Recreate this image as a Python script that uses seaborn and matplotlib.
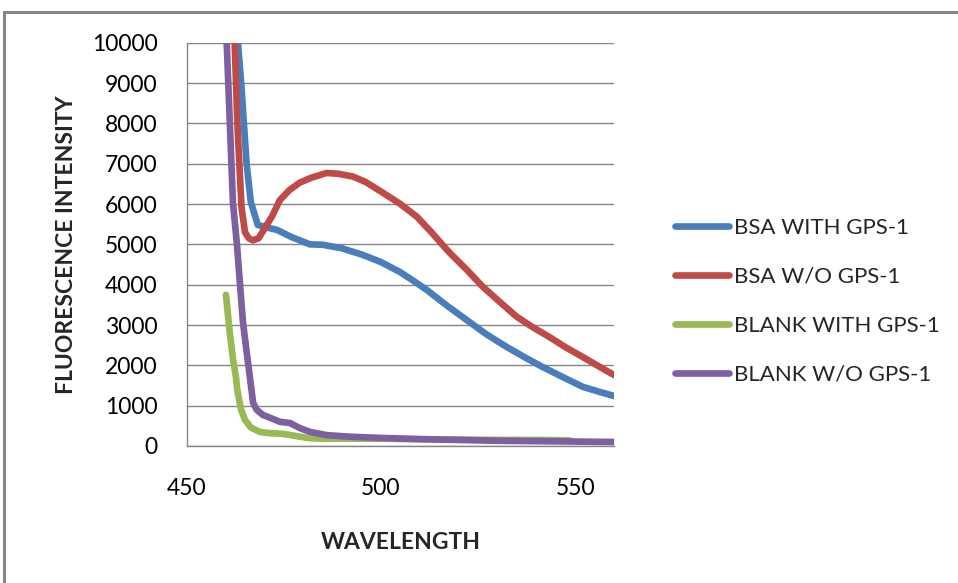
import numpy as np
import pandas as pd
import matplotlib
matplotlib.use("Agg")
import matplotlib.pyplot as plt
import seaborn as sns
from matplotlib.patches import Rectangle

# ---- data ----
bsa_with_x = [462.8, 463.2, 464.1, 465.4, 466.5, 468.3, 471.4, 473.2, 477.0, 481.7, 485.0, 490.0,
              495.3, 500.0, 504.8, 508.0, 511.8, 517.0, 522.0, 527.0, 532.3, 537.0, 541.6,
              547.0, 551.9, 556.0, 560.0]
bsa_with_y = [11000, 10000, 8900, 7020, 6050, 5480, 5400, 5360, 5180, 5000, 4990, 4900,
              4740, 4560, 4320, 4120, 3870, 3480, 3130, 2780, 2460, 2200, 1960,
              1700, 1470, 1350, 1240]

bsa_wo_x = [462.0, 463.0, 464.1, 465.0, 466.0, 467.0, 468.5, 470.6, 472.0, 474.0, 476.5, 479.1,
            482.0, 486.0, 489.0, 492.8, 496.0, 500.5, 505.0, 509.2, 513.0, 517.7, 522.0,
            526.2, 530.5, 534.9, 539.0, 543.4, 547.5, 551.9, 556.0, 560.0]
bsa_wo_y = [11000, 8100, 5930, 5300, 5150, 5100, 5150, 5480, 5700, 6100, 6350, 6530,
            6650, 6770, 6750, 6680, 6550, 6280, 6000, 5690, 5300, 4790, 4380,
            3950, 3580, 3210, 2950, 2700, 2450, 2210, 1980, 1760]

blank_with_x = [460.1, 461.1, 462.0, 462.7, 463.0, 464.0, 465.0, 466.5, 468.8, 471.0, 474.8,
                478.0, 481.0, 485.0, 490.0, 500.0, 510.0, 520.0, 530.0, 540.0, 548.6]
blank_with_y = [3750, 2800, 2100, 1690, 1400, 900, 650, 460, 350, 320, 300,
                250, 200, 180, 180, 180, 170, 160, 150, 150, 140]

blank_wo_x = [460.0, 460.3, 461.9, 462.9, 463.7, 464.5, 465.8, 467.1, 468.0, 469.6, 472.0,
              474.0, 476.6, 479.0, 481.7, 486.0, 492.0, 500.0, 510.0, 520.0, 530.0, 540.0,
              550.0, 560.0]
blank_wo_y = [11000, 10000, 6030, 5040, 4040, 3050, 2060, 1070, 900, 770, 680,
              600, 570, 450, 350, 270, 230, 200, 170, 150, 130, 120,
              110, 100]

series_names = ["BSA WITH GPS-1", "BSA W/O GPS-1", "BLANK WITH GPS-1", "BLANK W/O GPS-1"]
colors = ["#4A7EBB", "#BE4B48", "#98B954", "#7D60A0"]

xs = [bsa_with_x, bsa_wo_x, blank_with_x, blank_wo_x]
ys = [bsa_with_y, bsa_wo_y, blank_with_y, blank_wo_y]

frames = []
for name, x, y in zip(series_names, xs, ys):
    frames.append(pd.DataFrame({"wavelength": x, "intensity": y, "series": name}))
df = pd.concat(frames, ignore_index=True)

x_ticks = [450, 500, 550]
y_ticks = list(range(0, 10001, 1000))

# ---- plotting ----
sns.set_style("white")
plt.rcParams["font.family"] = ["Lato", "DejaVu Sans"]

fig = plt.figure(figsize=(9.58, 5.83), dpi=100)
ax = fig.add_axes([186.7 / 958, 1 - 446 / 583, (614 - 186.7) / 958, (446 - 42.7) / 583])

sns.lineplot(data=df, x="wavelength", y="intensity", hue="series",
             hue_order=series_names, palette=colors, sort=False,
             estimator=None, linewidth=4.8, ax=ax, legend=False, zorder=3)

ax.set_xlim(450, 560)
ax.set_ylim(0, 10000)
ax.set_xticks(x_ticks)
ax.set_yticks(y_ticks)
ax.set_xticklabels([str(t) for t in x_ticks], fontsize=16.5)
ax.set_yticklabels([str(t) for t in y_ticks], fontsize=16.5)

grid_col = "#868686"
ax.yaxis.grid(True, color=grid_col, linewidth=1.0, zorder=0)
ax.xaxis.grid(False)
ax.set_axisbelow(True)
for s in ["top", "right"]:
    ax.spines[s].set_visible(False)
for s in ["left", "bottom"]:
    ax.spines[s].set_color(grid_col)
    ax.spines[s].set_linewidth(1.0)
ax.tick_params(axis="both", direction="out", length=7, width=1.0, color=grid_col,
               labelcolor="black")
ax.tick_params(axis="y", pad=14)
ax.tick_params(axis="x", pad=16)

ax.set_xlabel("WAVELENGTH", fontsize=16.5, fontweight="bold", labelpad=24)
ax.set_ylabel("FLUORESCENCE INTENSITY", fontsize=16.5, fontweight="bold", labelpad=11)

# legend
handles = [plt.Line2D([0], [0], color=c, linewidth=4.8) for c in colors]
leg = fig.legend(handles, series_names, loc="upper left",
                 bbox_to_anchor=(655 / 958, 1 - 198 / 583), frameon=False,
                 fontsize=16, handlelength=2.45, handletextpad=0.2,
                 labelspacing=1.3)

# outer chart-area border (partially visible in reference)
fig.patches.append(Rectangle((4 / 958, -0.1), 1.2, (583 - 12) / 583 + 0.1,
                             transform=fig.transFigure, fill=False,
                             edgecolor="#868686", linewidth=2.2))

fig.savefig("out.png", dpi=100)
